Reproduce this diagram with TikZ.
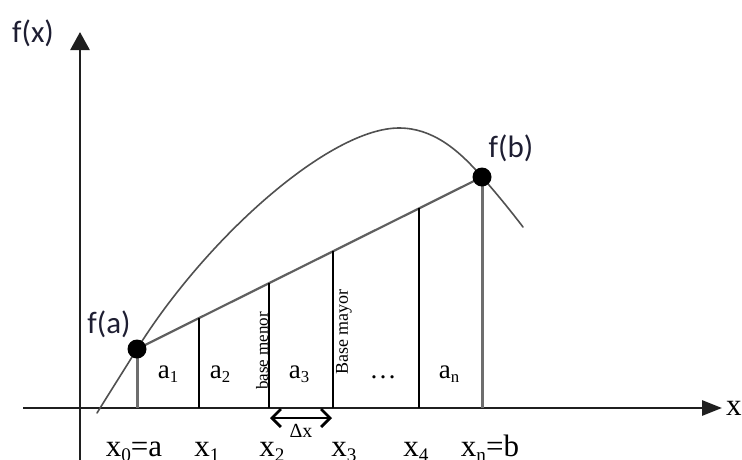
\documentclass[tikz,border=0pt]{standalone}
\usepackage{fontspec}
\usepackage{graphicx}
\setmainfont{Liberation Serif}
\newfontfamily\calib{Carlito}
\usetikzlibrary{arrows.meta}
\definecolor{lbl}{RGB}{30,30,50}
\definecolor{curvegray}{RGB}{80,80,80}
\definecolor{chordgray}{RGB}{95,95,95}
\definecolor{ordgray}{RGB}{110,110,110}
\newcommand\lowsub[1]{\raisebox{-0.18em}{\scalebox{0.62}{#1}}}
\begin{document}
\begin{tikzpicture}[x=1pt,y=-1pt,
  axisline/.style={line width=2.8pt, draw=black!88},
  fnlabel/.style={font=\calib\fontsize{31}{31}\selectfont, text=lbl, inner sep=0pt},
  xlabel/.style={font=\fontsize{31}{31}\selectfont, inner sep=0pt, anchor=base},
  alabel/.style={font=\fontsize{27}{27}\selectfont, inner sep=0pt, anchor=base},
  rotlabel/.style={font=\fontsize{17}{17}\selectfont, inner sep=0pt, rotate=90},
  dot/.style={circle, fill=black, inner sep=0pt, minimum size=19pt},
  ordline/.style={line width=3pt, draw=ordgray},
  divline/.style={line width=1.6pt, draw=black}]
\useasboundingbox (0,0) rectangle (742,459);

% axes
\coordinate (xs) at (23,408);
\coordinate (xe) at (722,408);
\coordinate (ys) at (80,460);
\coordinate (ye) at (80,32);
\draw[axisline, -{Triangle[length=20pt,width=15pt]}] (xs) -- (xe);
\draw[axisline, -{Triangle[length=18pt,width=19pt]}] (ys) -- (ye);
\node[font=\fontsize{31}{31}\selectfont, anchor=west, inner sep=0pt] (xlab) at (726,408) {x};
\node[fnlabel] (fxlab) at (33,33) {f(x)};

% key points
\coordinate (pa) at (137,349);
\coordinate (pb) at (482,177);
\coordinate (pa0) at (137,408);
\coordinate (pb0) at (482,408);
\coordinate (cs) at (97,413);
\coordinate (ctop) at (399,128);
\coordinate (ce) at (523,227);

% curve
\draw[line width=1.6pt, draw=curvegray, line cap=round]
  (cs) .. controls (110,392) and (124,370) .. (pa)
  .. controls (207,237) and (330,128) .. (ctop)
  .. controls (432,128) and (458,149) .. (pb)
  .. controls (497,194) and (510,210) .. (ce);

% chord
\draw[line width=2.2pt, draw=chordgray] (pa) -- (pb);

% ordinates at a and b
\draw[ordline] (pa0) -- (pa);
\draw[ordline] (pb0) -- (pb);

% subdivision lines
\coordinate (d1b) at (199,408); \coordinate (d1t) at (199,318.1);
\coordinate (d2b) at (269,408); \coordinate (d2t) at (269,283.2);
\coordinate (d3b) at (333,408); \coordinate (d3t) at (333,251.3);
\coordinate (d4b) at (419,408); \coordinate (d4t) at (419,208.4);
\draw[divline] (d1b) -- (d1t);
\draw[divline] (d2b) -- (d2t);
\draw[divline] (d3b) -- (d3t);
\draw[divline] (d4b) -- (d4t);

% dots
\node[dot] (fa) at (pa) {};
\node[dot] (fb) at (pb) {};
\node[fnlabel] (falab) at (109,324) {f(a)};
\node[fnlabel] (fblab) at (511,148) {f(b)};

% area labels
\node[alabel] (a1) at (168,378) {a\lowsub{1}};
\node[alabel] (a2) at (220,378) {a\lowsub{2}};
\node[alabel] (a3) at (299,378) {a\lowsub{3}};
\node[alabel] (adots) at (383,378) {\dots};
\node[alabel] (an) at (449,378) {a\lowsub{n}};

% rotated labels
\node[rotlabel] (bmen) at (262,351) {base menor};
\node[rotlabel, font=\fontsize{18}{18}\selectfont] (bmay) at (344,332) {Base mayor};

% delta x
\coordinate (dl) at (270,418);
\coordinate (dr) at (332,418);
\draw[line width=2.8pt, {Straight Barb[length=9pt,width=18pt]}-{Straight Barb[length=9pt,width=18pt]}] (dl) -- (dr);
\node[font=\fontsize{20}{20}\selectfont, inner sep=0pt] (dxlab) at (301,431) {Δx};

% x labels
\node[xlabel] (x0) at (134,456) {x\lowsub{0}=a};
\node[xlabel] (x1) at (207,456) {x\lowsub{1}};
\node[xlabel] (x2) at (272,456) {x\lowsub{2}};
\node[xlabel] (x3) at (344,456) {x\lowsub{3}};
\node[xlabel] (x4) at (416,456) {x\lowsub{4}};
\node[xlabel] (xn) at (490,456) {x\lowsub{n}=b};
\end{tikzpicture}
\end{document}
